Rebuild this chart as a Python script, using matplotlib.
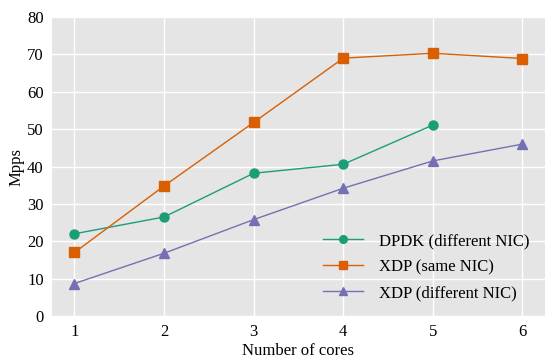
import matplotlib
matplotlib.use("Agg")
import matplotlib.pyplot as plt

cores = [1, 2, 3, 4, 5, 6]
dpdk_cores = [1, 2, 3, 4, 5]
dpdk_diff = [22.0, 26.5, 38.2, 40.6, 51.1]
xdp_same = [17.0, 34.8, 51.8, 69.0, 70.3, 68.9]
xdp_diff = [8.7, 16.8, 25.8, 34.2, 41.5, 46.0]

plt.rcParams['font.family'] = ['Liberation Serif', 'DejaVu Serif']
plt.rcParams['font.size'] = 12

fig, ax = plt.subplots(figsize=(5.6, 3.62), dpi=100)
fig.subplots_adjust(left=0.093, right=0.973, top=0.953, bottom=0.127)

ax.set_facecolor('#e5e5e5')
ax.grid(True, color='white', linewidth=1)
ax.set_axisbelow(True)
for s in ax.spines.values():
    s.set_visible(False)
ax.tick_params(length=0, pad=6, labelsize=12)

ax.plot(dpdk_cores, dpdk_diff, color='#1b9e77', marker='o', markersize=6.5,
        linewidth=1, label='DPDK (different NIC)')
ax.plot(cores, xdp_same, color='#d95f02', marker='s', markersize=6.5,
        linewidth=1, label='XDP (same NIC)')
ax.plot(cores, xdp_diff, color='#7570b3', marker='^', markersize=6.5,
        linewidth=1, label='XDP (different NIC)')

ax.set_xlim(0.75, 6.25)
ax.set_ylim(0, 80)
ax.set_xticks(cores)
ax.set_yticks(range(0, 81, 10))
ax.set_xlabel('Number of cores', fontsize=12, labelpad=2)
ax.set_ylabel('Mpps', fontsize=12, labelpad=2)

ax.legend(loc='lower right', frameon=False, fontsize=12, markerscale=0.85,
          bbox_to_anchor=(1.0, 0.0), handlelength=2.4, labelspacing=0.6,
          handletextpad=1.0)

fig.savefig('out.png')
